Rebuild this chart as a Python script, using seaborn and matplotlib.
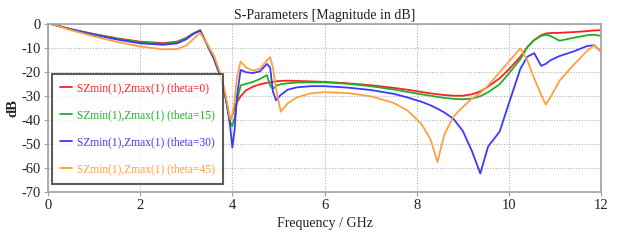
import numpy as np
import pandas as pd
import matplotlib
matplotlib.use("Agg")
import matplotlib.pyplot as plt
import seaborn as sns

# ---------------------------------------------------------------------------
# Data (GHz, dB)
# ---------------------------------------------------------------------------
freq = [0.1, 0.5, 1.0, 1.5, 2.0, 2.5, 2.8, 3.0, 3.15, 3.3, 3.45, 3.6, 3.75,
        3.85, 3.95, 4.0, 4.05, 4.1, 4.18, 4.3, 4.45, 4.6, 4.75, 4.82, 4.88,
        4.95, 5.05, 5.2, 5.4, 5.7, 6.0, 6.5, 7.0, 7.5, 7.8, 8.1, 8.3, 8.45,
        8.6, 8.8, 9.0, 9.2, 9.38, 9.55, 9.8, 10.0, 10.25, 10.4, 10.55, 10.7,
        10.8, 10.9, 11.1, 11.4, 11.7, 11.85, 12.0]

theta0 = [0, -2.0, -4.0, -5.8, -7.2, -7.8, -7.2, -5.6, -3.8, -2.4, -8.3, -14,
          -22, -30, -40, -38, -35, -32.5, -30, -27.5, -26, -25, -24.4, -24.2,
          -24, -23.8, -23.6, -23.5, -23.6, -23.8, -24, -24.6, -25.4, -26.5,
          -27.3, -28.2, -28.8, -29.2, -29.5, -29.8, -29.8, -29.2, -28, -26,
          -22.5, -18.8, -13.5, -9.5, -6.5, -4.5, -3.8, -3.6, -3.5, -3.2,
          -2.8, -2.5, -2.4]

theta15 = [0, -2.0, -4.1, -6.0, -7.5, -8.1, -7.5, -5.8, -3.9, -2.5, -8.5,
           -14.5, -22.5, -30.5, -40.5, -42.5, -39, -32, -25.5, -24.8, -24,
           -22.8, -21.2, -25.5, -27, -25.6, -25, -24.6, -24.3, -24.2, -24.2,
           -24.8, -25.8, -27.2, -28.2, -29.2, -29.8, -30.3, -30.7, -31.1,
           -31.3, -31, -30, -28.3, -25, -20.5, -14.5, -9.5, -6.5, -4.8, -4.3,
           -4.8, -6.8, -5.6, -4.5, -4.3, -4.8]

theta30 = [0, -2.1, -4.3, -6.3, -7.9, -8.5, -7.9, -6.2, -4.0, -2.6, -8.2, -14,
           -22, -30, -42, -51.5, -44, -30, -19, -20, -20.3, -19.6, -16.5, -18,
           -28, -31.7, -29.5, -27.3, -26.3, -25.8, -25.8, -26.4, -27.4, -29,
           -30.5, -32.3, -33.8, -35.2, -36.8, -39.5, -44.5, -53, -62.3, -51,
           -44.8, -33, -18.5, -13.5, -12, -17.3, -16.5, -15, -13.2, -11.3, -9,
           -8.7, -11.3]

theta45 = [0, -2.4, -5.0, -7.3, -9.2, -10.4, -10.3, -8.8, -6.2, -3.5, -8.0,
           -13, -21, -29, -39.5, -38, -32, -22, -15.5, -18, -19.3, -18.5, -15,
           -13.7, -18, -27, -36.5, -33, -30.5, -28.8, -28.3, -28.7, -30,
           -32.8, -36, -41.5, -48, -57.5, -46, -38.5, -34.5, -31, -28.6, -25.5,
           -20, -15.5, -10, -15, -22.5, -29.5, -33.5, -30.5, -23.5, -17, -11,
           -8.7, -11.3]

labels = ["SZmin(1),Zmax(1) (theta=0)", "SZmin(1),Zmax(1) (theta=15)",
          "SZmin(1),Zmax(1) (theta=30)", "SZmin(1),Zmax(1) (theta=45)"]
colors = ["#ff2020", "#22b022", "#3a3aff", "#ffa040"]

df = pd.concat([
    pd.DataFrame({"freq": freq, "dB": vals, "curve": lab})
    for vals, lab in zip([theta0, theta15, theta30, theta45], labels)
])

# ---------------------------------------------------------------------------
# Plot
# ---------------------------------------------------------------------------
sns.set_theme(style="white")
plt.rcParams["font.family"] = ["Liberation Serif", "DejaVu Serif"]
plt.rcParams["axes.unicode_minus"] = False

fig = plt.figure(figsize=(6.19, 2.42), dpi=100)
ax = fig.add_axes([0.0775, 0.207, 0.8935, 0.692])

sns.lineplot(data=df, x="freq", y="dB", hue="curve", hue_order=labels,
             palette=dict(zip(labels, colors)), linewidth=1.3, ax=ax,
             sort=False, estimator=None)

ax.set_xlim(0, 12)
ax.set_ylim(-70, 0)
ax.set_xticks(range(0, 13, 2))
ax.set_yticks(range(-70, 1, 10))
ax.grid(True, color="#b0b0b0", linestyle=(0, (1, 1.5)), linewidth=0.8)
for sp in ax.spines.values():
    sp.set_color("#a0a0a0")
    sp.set_linewidth(1.2)
ax.tick_params(axis="both", labelsize=10.5, length=3, width=0.8,
               color="#a0a0a0", pad=2, labelcolor="#222222")
ax.tick_params(axis="both", direction="out", bottom=True, left=True)

ax.set_title("S-Parameters [Magnitude in dB]", fontsize=10, pad=4,
             color="#222222")
ax.set_xlabel("Frequency / GHz", fontsize=10, labelpad=4, color="#222222")
ax.set_ylabel("dB", fontsize=10.5, weight="bold", labelpad=2,
              color="#222222")

leg = ax.legend(loc="lower left", bbox_to_anchor=(0.008, 0.05),
                fontsize=8.3, frameon=True, fancybox=False,
                handlelength=1.0, handletextpad=0.4, borderpad=0.7,
                labelspacing=1.3, borderaxespad=0)
leg.get_frame().set_edgecolor("#333333")
leg.get_frame().set_linewidth(1.5)
for txt, c in zip(leg.get_texts(), colors):
    txt.set_color(c)

fig.savefig("out.png", dpi=100)
